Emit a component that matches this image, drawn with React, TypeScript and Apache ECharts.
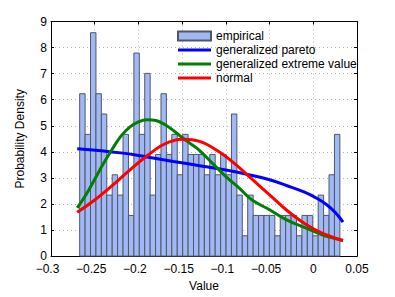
import React, { useEffect, useRef } from "react";
import * as echarts from "echarts";

// Histogram (empirical probability density), 48 equal bins
const binStart = -0.2672;
const binWidth = 0.0062;
const empiricalDensity = [
  6.23, 4.67, 8.57, 6.23, 5.45, 2.34, 3.12, 2.34, 4.67, 1.56, 7.79, 4.67,
  7.01, 2.34, 3.90, 6.23, 3.90, 4.67, 3.12, 4.67, 3.90, 3.90, 3.90, 3.12, 3.90, 3.12,
  3.90, 3.12, 5.45, 2.34, 0.78, 2.34, 1.56, 1.56, 1.56, 1.56, 0.78, 1.56, 1.56,
  1.56, 0.78, 1.56, 1.56, 0.78, 2.34, 1.56, 3.12, 4.67,
];

// Fitted curves
const paretoX = [-0.27, -0.22, -0.19, -0.16, -0.13, -0.10, -0.075, -0.05, -0.03, -0.01, 0.005, 0.015, 0.025, 0.034];
const paretoY = [4.12, 3.96, 3.80, 3.63, 3.47, 3.30, 3.13, 2.93, 2.70, 2.45, 2.20, 1.98, 1.68, 1.30];

const gevX = [-0.27, -0.26, -0.25, -0.24, -0.23, -0.22, -0.21, -0.20, -0.19, -0.18, -0.17, -0.16, -0.15, -0.14, -0.13, -0.115, -0.10, -0.085, -0.07, -0.05, -0.03, -0.01, 0.01, 0.034];
const gevY = [1.85, 2.35, 2.95, 3.55, 4.10, 4.60, 4.95, 5.15, 5.23, 5.20, 5.05, 4.82, 4.55, 4.30, 4.05, 3.55, 3.05, 2.62, 2.15, 1.78, 1.38, 1.10, 0.82, 0.60];

const normalX = [-0.27, -0.25, -0.23, -0.21, -0.19, -0.17, -0.15, -0.13, -0.11, -0.09, -0.07, -0.05, -0.03, -0.01, 0.01, 0.034];
const normalY = [1.68, 2.15, 2.70, 3.30, 3.85, 4.30, 4.48, 4.40, 4.05, 3.55, 2.95, 2.35, 1.75, 1.25, 0.88, 0.60];

const xTickLabels = ["−0.3", "−0.25", "−0.2", "−0.15", "−0.1", "−0.05", "0", "0.05"];
const seriesNames = ["empirical", "generalized pareto", "generalized extreme value", "normal"];

const FONT = "Liberation Sans, Arial, Helvetica, sans-serif";
const LINE_ICON = "path://M0,0 L33,0 L33,3 L0,3 Z";

export default function App() {
  const ref = useRef<HTMLDivElement>(null);
  useEffect(() => {
    if (!ref.current) return;
    const chart = echarts.init(ref.current, null, { renderer: "svg" });
    const histData = empiricalDensity.map((d, i) => [
      binStart + i * binWidth,
      binStart + (i + 1) * binWidth,
      d,
    ]);
    const zip = (xs: number[], ys: number[]) => xs.map((x, i) => [x, ys[i]]);
    const lineCommon = {
      type: "line",
      smooth: 0.4,
      symbol: "none",
      showSymbol: false,
      z: 5,
    };
    chart.setOption({
      animation: false,
      textStyle: { fontFamily: FONT },
      grid: { left: 51, top: 21.5, width: 306, height: 241.3, containLabel: false },
      legend: {
        orient: "vertical",
        left: 177,
        top: 30,
        itemWidth: 33,
        itemHeight: 9,
        itemGap: 2,
        padding: 0,
        symbolKeepAspect: true,
        textStyle: { fontSize: 12, color: "#000", fontFamily: FONT },
        data: [
          { name: seriesNames[0], icon: "rect" },
          { name: seriesNames[1], icon: LINE_ICON },
          { name: seriesNames[2], icon: LINE_ICON },
          { name: seriesNames[3], icon: LINE_ICON },
        ],
      },
      xAxis: [
        {
          type: "value",
          min: -0.3,
          max: 0.05,
          interval: 0.05,
          name: "Value",
          nameLocation: "middle",
          nameGap: 18,
          nameTextStyle: { fontSize: 12, color: "#000", fontFamily: FONT },
          axisLine: { show: true, onZero: false, lineStyle: { color: "#000", width: 1 } },
          axisTick: { show: true, inside: true, length: 3, lineStyle: { color: "#000" } },
          axisLabel: {
            fontSize: 12,
            lineHeight: 12,
            color: "#000",
            margin: 7,
            fontFamily: FONT,
            formatter: (v: number) => {
              const idx = Math.round((v + 0.3) / 0.05);
              const s = xTickLabels[idx] ?? "";
              return s.startsWith("−") ? "{n|" + s + "}" : s;
            },
            rich: { n: { fontSize: 12, lineHeight: 12, color: "#000", fontFamily: FONT, padding: [0, 7, 0, 0] } },
          },
          splitLine: { show: true, lineStyle: { color: "#b4b4b4", type: [1, 3], width: 1 } },
        },
        {
          type: "value",
          position: "top",
          min: -0.3,
          max: 0.05,
          interval: 0.05,
          axisLine: { show: true, onZero: false, lineStyle: { color: "#000", width: 1 } },
          axisTick: { show: true, inside: true, length: 3, lineStyle: { color: "#000" } },
          axisLabel: { show: false },
          splitLine: { show: false },
        },
      ],
      yAxis: [
        {
          type: "value",
          min: 0,
          max: 9,
          interval: 1,
          name: "Probability Density",
          nameLocation: "middle",
          nameGap: 25,
          nameTextStyle: { fontSize: 12, color: "#000", fontFamily: FONT },
          axisLine: { show: true, onZero: false, lineStyle: { color: "#000", width: 1 } },
          axisTick: { show: true, inside: true, length: 3, lineStyle: { color: "#000" } },
          axisLabel: { fontSize: 12, lineHeight: 11, color: "#000", margin: 4, fontFamily: FONT },
          splitLine: { show: true, lineStyle: { color: "#b4b4b4", type: [1, 3], width: 1 } },
        },
        {
          type: "value",
          position: "right",
          min: 0,
          max: 9,
          interval: 1,
          axisLine: { show: true, onZero: false, lineStyle: { color: "#000", width: 1 } },
          axisTick: { show: true, inside: true, length: 3, lineStyle: { color: "#000" } },
          axisLabel: { show: false },
          splitLine: { show: false },
        },
      ],
      series: [
        {
          name: seriesNames[0],
          type: "custom",
          itemStyle: { color: "#a0b9f5", borderColor: "#50566a", borderWidth: 1 },
          encode: { x: [0, 1], y: 2 },
          data: histData,
          z: 2,
          renderItem: (params: any, api: any) => {
            const p0 = api.coord([api.value(0), api.value(2)]);
            const p1 = api.coord([api.value(1), 0]);
            return {
              type: "rect",
              shape: { x: p0[0], y: p0[1], width: p1[0] - p0[0], height: p1[1] - p0[1] },
              style: { fill: "#a0b9f5", stroke: "#50566a", lineWidth: 1 },
            };
          },
        },
        {
          ...lineCommon,
          name: seriesNames[1],
          data: zip(paretoX, paretoY),
          itemStyle: { color: "#0000ff" },
          lineStyle: { color: "#0000ff", width: 3 },
        },
        {
          ...lineCommon,
          name: seriesNames[2],
          data: zip(gevX, gevY),
          itemStyle: { color: "#008000" },
          lineStyle: { color: "#008000", width: 3 },
        },
        {
          ...lineCommon,
          name: seriesNames[3],
          data: zip(normalX, normalY),
          itemStyle: { color: "#ff0000" },
          lineStyle: { color: "#ff0000", width: 3 },
        },
      ],
    });
    return () => chart.dispose();
  }, []);
  return (
    <div
      ref={ref}
      style={{ position: "fixed", left: 0, top: 0, width: 395, height: 297, background: "#fff" }}
    />
  );
}
